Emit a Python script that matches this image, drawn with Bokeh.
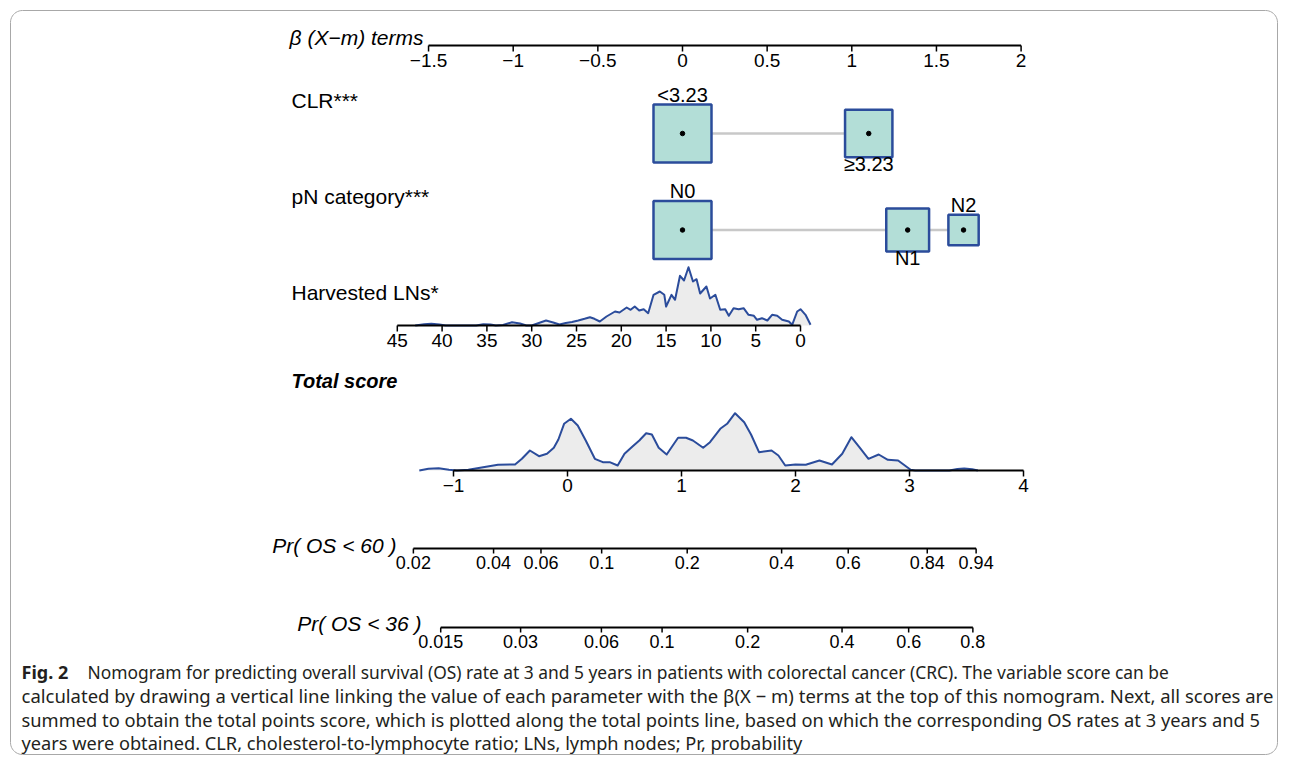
import numpy as np
from bokeh.plotting import figure
from bokeh.models import Range1d
from bokeh.core.properties import value
from bokeh.embed import file_html
from bokeh.resources import INLINE

# ---------------- data ----------------
beta_ticks = [-1.5, -1, -0.5, 0, 0.5, 1, 1.5, 2]
beta_tick_labels = ["\u22121.5", "\u22121", "\u22120.5", "0", "0.5", "1", "1.5", "2"]

clr_levels = ["<3.23", "\u22653.23"]
clr_beta = [0.0, 1.10]
clr_freq = [0.60, 0.40]

pn_levels = ["N0", "N1", "N2"]
pn_beta = [0.0, 1.33, 1.66]
pn_freq = [0.55, 0.30, 0.15]

ln_ticks = [45, 40, 35, 30, 25, 20, 15, 10, 5, 0]
ln_x = [43.0, 42.0, 41.2, 40.3, 39.6, 36.2, 35.4, 34.6, 34.0, 33.2, 32.2, 31.3, 30.6,
        30.0, 29.2, 28.4, 27.6, 26.9, 26.2, 25.5, 24.8, 24.1, 23.5, 23.0, 22.4, 21.65,
        20.7, 20.2, 19.4, 18.96, 18.5, 18.0, 17.5, 17.0, 16.4, 15.7, 15.2, 15.0, 14.4,
        14.0, 13.45, 13.0, 12.5, 12.0, 11.6, 11.2, 10.5, 10.1, 9.5, 8.96, 8.4, 8.0,
        7.47, 6.9, 6.35, 5.8, 5.2, 4.85, 4.3, 3.7, 3.17, 2.6, 2.05, 1.3, 0.93, 0.37,
        0.0, -0.56, -1.12]
ln_density = [0.0, 0.012, 0.018, 0.010, 0.0, 0.0, 0.012, 0.010, 0.0, 0.005, 0.033, 0.020, 0.0,
              0.0, 0.025, 0.050, 0.030, 0.010, 0.025, 0.035, 0.050, 0.067, 0.083, 0.067, 0.040, 0.090,
              0.140, 0.130, 0.180, 0.157, 0.190, 0.150, 0.163, 0.123, 0.307, 0.340, 0.307, 0.190, 0.307,
              0.257, 0.497, 0.450, 0.583, 0.440, 0.463, 0.320, 0.390, 0.270, 0.307, 0.157, 0.163, 0.097,
              0.173, 0.163, 0.173, 0.107, 0.097, 0.057, 0.073, 0.050, 0.107, 0.097, 0.057, 0.040, 0.007, 0.140,
              0.163, 0.107, 0.007]

total_ticks = [-1, 0, 1, 2, 3, 4]
total_tick_labels = ["\u22121", "0", "1", "2", "3", "4"]
total_x = [-1.30, -1.22, -1.13, -1.04, -0.97, -0.87, -0.74, -0.61, -0.46, -0.40, -0.33, -0.25,
           -0.18, -0.12, -0.08, -0.03, 0.03, 0.09, 0.16, 0.24, 0.31, 0.37, 0.44, 0.50, 0.57,
           0.63, 0.69, 0.74, 0.80, 0.87, 0.91, 0.97, 1.04, 1.10, 1.19, 1.25, 1.34, 1.40, 1.47,
           1.55, 1.61, 1.68, 1.79, 1.85, 1.91, 2.00, 2.09, 2.21, 2.32, 2.41, 2.49, 2.56, 2.64,
           2.73, 2.81, 2.90, 3.01, 3.05, 3.35, 3.42, 3.48, 3.55, 3.60]
total_density = [0.0, 0.018, 0.023, 0.008, 0.0, 0.007, 0.033, 0.057, 0.060, 0.117, 0.200, 0.143,
                 0.167, 0.227, 0.310, 0.467, 0.517, 0.450, 0.300, 0.117, 0.083, 0.083, 0.050, 0.167, 0.240,
                 0.300, 0.373, 0.360, 0.227, 0.160, 0.227, 0.327, 0.327, 0.300, 0.227, 0.283, 0.417, 0.467, 0.573,
                 0.483, 0.360, 0.183, 0.200, 0.150, 0.050, 0.060, 0.057, 0.100, 0.060, 0.167, 0.333, 0.233, 0.117,
                 0.160, 0.107, 0.100, 0.007, 0.0, 0.0, 0.015, 0.020, 0.012, 0.0]

pr60_ticks = [0.02, 0.04, 0.06, 0.1, 0.2, 0.4, 0.6, 0.84, 0.94]
pr60_labels = ["0.02", "0.04", "0.06", "0.1", "0.2", "0.4", "0.6", "0.84", "0.94"]
pr36_ticks = [0.015, 0.03, 0.06, 0.1, 0.2, 0.4, 0.6, 0.8]
pr36_labels = ["0.015", "0.03", "0.06", "0.1", "0.2", "0.4", "0.6", "0.8"]
# baseline-hazard offsets (total score at which log(-log(1-p)) = 0)
pr60_offset = 2.55
pr36_offset = 3.08

caption_bold = "Fig. 2"
caption_lines = [
    "Nomogram for predicting overall survival (OS) rate at 3 and 5 years in patients with colorectal cancer (CRC). The variable score can be",
    "calculated by drawing a vertical line linking the value of each parameter with the \u03b2(X \u2212 m) terms at the top of this nomogram. Next, all scores are",
    "summed to obtain the total points score, which is plotted along the total points line, based on which the corresponding OS rates at 3 years and 5",
    "years were obtained. CLR, cholesterol-to-lymphocyte ratio; LNs, lymph nodes; Pr, probability",
]

# ---------------- layout / scales ----------------
W, H = 1279, 755
PX_PER_BETA, BETA0_PX = 169.3, 682.0
PX_PER_TOT, TOTM1_PX = 114.0, 453.0
LN0_PX, PX_PER_LN = 800.0, 8.96

x_lo, x_hi = 0, W
p = figure(width=W, height=H, output_backend="svg", toolbar_location=None,
           x_range=Range1d(x_lo, x_hi), y_range=Range1d(H, 0),
           x_axis_location=None, y_axis_location=None, min_border=0)
p.grid.visible = False
p.outline_line_color = None
p.background_fill_color = "white"
p.border_fill_color = "white"

p.extra_x_ranges = {
    "beta": Range1d((x_lo - BETA0_PX) / PX_PER_BETA, (x_hi - BETA0_PX) / PX_PER_BETA),
    "tot": Range1d((x_lo - TOTM1_PX) / PX_PER_TOT - 1, (x_hi - TOTM1_PX) / PX_PER_TOT - 1),
    "ln": Range1d((LN0_PX - x_lo) / PX_PER_LN, (LN0_PX - x_hi) / PX_PER_LN),
}

FONT = value("Liberation Sans")
CAP_FONT = value("Noto Sans")
LAB_FS = "21px"
BLUE = "#2b4c9b"
AX_Y = dict(top=45, clr=133, pn=229.5, ln=325, tot=470, p60=548, p36=627)

# rounded frame
r = 12
l, rt, tp, bt = 10, W - 2, 10, H - 1
ang = np.linspace(0, np.pi / 2, 12)
bx = np.concatenate([rt - r + r * np.cos(ang), l + r - r * np.sin(ang),
                     l + r - r * np.cos(ang), rt - r + r * np.sin(ang)])
by = np.concatenate([tp + r - r * np.sin(ang), tp + r - r * np.cos(ang),
                     bt - r + r * np.sin(ang), bt - r + r * np.cos(ang)])
bx = np.append(bx, bx[0]); by = np.append(by, by[0])
p.line(bx, by, line_color="#a8a8a8", line_width=1)


def axis(rng, ticks, labels, y, fs, lo=None, hi=None, tick_len=6, lw=2):
    lo = min(ticks) if lo is None else lo
    hi = max(ticks) if hi is None else hi
    p.segment(x0=[lo], y0=[y], x1=[hi], y1=[y], x_range_name=rng, line_color="black", line_width=lw)
    p.segment(x0=ticks, y0=[y] * len(ticks), x1=ticks, y1=[y + tick_len] * len(ticks),
              x_range_name=rng, line_color="black", line_width=1.5)
    p.text(x=ticks, y=[y + tick_len + 2] * len(ticks), text=labels, x_range_name=rng,
           text_font=FONT, text_font_size=fs, text_align="center", text_baseline="top",
           text_color="black")


def row_label(txt, y, style="normal", x=291, align="left", fs=LAB_FS):
    p.text(x=[x], y=[y], text=[txt], text_font=FONT, text_font_size=fs,
           text_font_style=style, text_align=align, text_baseline="middle", text_color="black")


# top beta axis
axis("beta", beta_ticks, beta_tick_labels, AX_Y["top"], "19px")
row_label("\u03b2 (X\u2212m) terms", 37, style="italic", x=423, align="right", fs="21px")


def cat_row(levels, betas, freqs, y, label, label_y):
    row_label(label, label_y)
    fmax = max(freqs)
    sides = [58 * np.sqrt(f / fmax) for f in freqs]
    p.segment(x0=[min(betas)], y0=[y], x1=[max(betas)], y1=[y], x_range_name="beta",
              line_color="#c8c8c8", line_width=2.5)
    p.rect(x=betas, y=[y] * len(betas), width=sides, height=sides, width_units="screen",
           height_units="screen", x_range_name="beta", fill_color="#b3ded7",
           line_color=BLUE, line_width=2.5)
    p.scatter(x=betas, y=[y] * len(betas), size=4.5, color="black", x_range_name="beta")
    for i, (lev, b, s) in enumerate(zip(levels, betas, sides)):
        if i % 2 == 0:
            p.text(x=[b], y=[y - s / 2 + 1], text=[lev], x_range_name="beta", text_font=FONT,
                   text_font_size="20px", text_align="center", text_baseline="bottom")
        else:
            p.text(x=[b], y=[y + s / 2 - 4], text=[lev], x_range_name="beta", text_font=FONT,
                   text_font_size="20px", text_align="center", text_baseline="top")


cat_row(clr_levels, clr_beta, clr_freq, AX_Y["clr"], "CLR***", 100)
cat_row(pn_levels, pn_beta, pn_freq, AX_Y["pn"], "pN category***", 196)

DENS_SCALE = 100.0


def density(rng, xs, ds, y):
    ys = [y - d * DENS_SCALE for d in ds]
    p.patch(list(xs) + [xs[-1], xs[0]], ys + [y, y], x_range_name=rng,
            fill_color="#ececec", line_color=None)
    p.line(xs, ys, x_range_name=rng, line_color=BLUE, line_width=2, line_join="round")


# harvested LNs
row_label("Harvested LNs*", 292)
density("ln", ln_x, ln_density, AX_Y["ln"])
axis("ln", ln_ticks, [str(t) for t in ln_ticks], AX_Y["ln"], "19px")

# total score
row_label("Total score", 380, style="bold italic", fs="20px")
density("tot", total_x, total_density, AX_Y["tot"])
axis("tot", total_ticks, total_tick_labels, AX_Y["tot"], "19px")

# probability axes
pr60_pos = [float(np.log(-np.log(1 - q)) + pr60_offset) for q in pr60_ticks]
pr36_pos = [float(np.log(-np.log(1 - q)) + pr36_offset) for q in pr36_ticks]
axis("tot", pr60_pos, pr60_labels, AX_Y["p60"], "18px", tick_len=5)
row_label("Pr( OS < 60 )", 545, style="italic", x=396, align="right")
axis("tot", pr36_pos, pr36_labels, AX_Y["p36"], "18px", tick_len=5)
row_label("Pr( OS < 36 )", 623, style="italic", x=421, align="right")

# caption
cap_y = [671, 695, 719, 742]
cap_fs = ["17.4px", "18.5px", "18.3px", "18.2px"]
p.text(x=[21], y=[cap_y[0]], text=[caption_bold], text_font=CAP_FONT, text_font_size="18px",
       text_font_style="bold", text_baseline="middle", text_color="#231f20")
for i, line in enumerate(caption_lines):
    p.text(x=[87 if i == 0 else 21], y=[cap_y[i]], text=[line], text_font=CAP_FONT,
           text_font_size=cap_fs[i], text_baseline="middle", text_color="#231f20")

open("out.html", "w").write(file_html(p, INLINE))
